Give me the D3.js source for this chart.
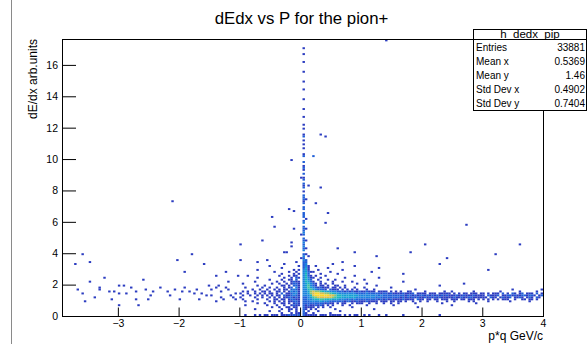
<!DOCTYPE html>
<html>
<head>
<meta charset="utf-8">
<script src="https://cdn.jsdelivr.net/npm/d3@7"></script>
<style>
  body { margin: 0; background: #fff; }
  svg { display: block; }
  text { font-family: "Liberation Sans", Arial, Helvetica, sans-serif; fill: #000; }
</style>
</head>
<body>
<svg id="canvas" width="587" height="344"></svg>
<script>
// ---- chart text ----
const titleText = "dEdx vs P for the pion+";
const xTitleText = "p*q GeV/c";
const yTitleText = "dE/dx arb.units";

// ---- axes ----
const xDomain = [-3.92, 4];
const yDomain = [0, 17.65];
const xTickLabels = [-3, -2, -1, 0, 1, 2, 3, 4];
const yTickLabels = [0, 2, 4, 6, 8, 10, 12, 14, 16];

// ---- statistics box ----
const statsName = "h_dedx_pip";
const statsLabels = ["Entries", "Mean x", "Mean y", "Std Dev x", "Std Dev y"];
const statsValues = ["33881", "0.5369", "1.46", "0.4902", "0.7404"];

// ---- histogram bins ----
const binW = 0.04;
const binH = 0.125;

// dense region: x from -1.0 to 4.0, y from 0 to 3.5
// one string per y bin, top bin first; '.' = empty, 1..9 = colour level
const gridX0 = -1.0;
const gridRows = [
  "..... ..1.. ..... ..... ...1. .22.. ..... ..... ..1.. ..... ..... ..... ..... ..... ..... ..... ..... ..... ..... ..... ..... ..... ..... ..... .....",
  "..... ..... ..... ...1. ..... .23.. ..... ...1. ..... ..... ..... ..... ..... ..... ..... ..... ..1.. ..... ..... ..... ..... ..... ..... ..... .....",
  "..... ..... ..1.. ..... ....1 .231. .1... ..... ..... ..1.. ..... ..... ..... ..... ..... ..... ..... ..... ..... ..... ..... ..... ..... ..... .....",
  "..... ..... ..... ..1.. ..... .241. ..... .1... ..... ..... ..... ..1.. ..... ..... ..... ..... ..... ..... ..... ..... ..... ..... ..... ..... .....",
  "..... ..1.. ..... ..... ..1.1 .341. ..1.. ..... ..1.. ..... ..... ..... ..... ..... ..... ..... ..... ..... ..... ..... ..1.. ..... ..... ..... .....",
  "..... ..... ....1 ..... 1..1. .3421 1.... ..1.. ..... ..... ....1 ..... ..... ..... ..... ..... ..... ..... ..... ..... ..... ..... ..... ..... .....",
  "..... ..... ..... ..1.. ..1.1 .352. ...1. ..... 1.... ..... ..... ..... ..... ..1.. ..... ..... ..... ..... ..... ..... ..... ..... ..... ..... .....",
  "...1. ..... ..... .1... 1.11. .3521 .1... 1.... ..... ..1.. ..... ..... ..... ..... ..... ..... ..... ..... ..... ..... ..... ..... ..... ..... .....",
  "..... ..1.. ..... ...1. .1.21 .3531 1..1. ..... ...1. ..... ..... ..1.. ..... ..... ..... ..... ..... ..... ..... ..... ..... ..... ..... ..... .....",
  "..... ..... ..1.. ..1.. 11.2. .3532 ..1.. .1..1 ..... ..... .1... ..... ..... ..... ..... ..... ..... ..... ..... ..... ..... ..... ..... ..... .....",
  "..... .1... ..... 1..1. .1211 .3542 1..1. ...1. ..1.. .1... ..... ..... ..... ..1.. ..... ..... ..... ..... ..... ..... ..... ..... ..... ..... .....",
  ".1... ..... ...1. .1..1 .1221 .3453 21.1. 1..1. ..... ...1. ..1.. ..... ..... ..... ..... ..... ..... ..... ..1.. ..... ..... ..... ..... ..... .....",
  "..... ..1.. 1.... ..11. 1.221 .3463 21.11 .1..1 1..1. ..... ..... .1... ..... ..... ..... ..... ..1.. ..... ..... ..... ..... ..... ..... ..... .....",
  "..1.. ....1 ..1.. 1..1. 12.31 .3464 32121 11.11 .1.1. ..1.. .1... ..... ..1.. ..... ..... ..... ..... ..... ..... ..... ..... ..... ..... ..... .....",
  "..... 1..1. .1..1 .1.11 .2321 .3356 43222 1.211 1.1.1 .1.1. ..1.. 1.... ..... ..... ..1.. ..... ..... ..... ..... ..... ..... ..... ..1.. ..... ....1",
  ".1.1. .1..1 1.1.. 11.1. 13231 .3347 87765 44333 22212 12112 11211 1.111 1.1.1 .1..1 1.... .1... ....1 ..1.. ..... .1... ..... ..1.. ..... 1.... ..1..",
  "1..1. .1.1. 1.11. 1.2.1 12331 .3347 89988 77654 43333 33322 22322 22212 21211 11211 12.11 11.11 1.111 11.1. 1.11. 111.1 1.1.1 11.2. 1.21. 12.11 1.2.1",
  ".1..1 ..1.1 .1.1. 11.21 12321 .3335 89999 99887 55444 44443 33333 33232 22222 22212 21212 21212 12121 21112 11211 12111 1.211 12.11 22121 12212 21.12",
  "1.... .1..1 ..1.1 .1.11 22121 .2234 67888 88876 55444 44433 33333 32322 22222 21212 12121 12121 21211 11121 12112 21111 11.21 1.121 12.11 21.12 1.21.",
  ".1... ..1.. .1..1 1.11. 12211 .2233 45566 55544 43332 32322 22222 22121 21211 11211 11.21 1.11. 11.11 1.111 .11.1 11.1. 1.1.1 .1.11 1..1. .11.1 1.1..",
  "..1.. 1.... ..1.1 .1.1. 11221 .2223 33343 33222 22212 21121 11211 11.11 1.11. 11.1. .1..1 ..1.. .1... 1..1. ....1 .1... ..1.. ..... .1... ....1 .....",
  "..... ..1.. 1...1 ..11. 1.121 .2222 22222 1211. 1.11. .1.11 1..1. .1..1 ..1.. 1.... ..1.. ..... ...1. ..... ..... ..1.. ..... ..... ..... ..... .....",
  "..1.. ..... .1... 1..1. .1211 .2121 12121 .1.1. ..1.. 1.... ..1.. ..... ...1. ..... ..... ..... ..... ..1.. ..... ..... ..... ..... ..... ..... .....",
  "..... ..... ...1. .1..1 1.11. .2111 1.1.1 ..1.. ..... .1... ..... ..... ..... ..... ...1. ..... ..... ..... ..... ..... ..... ..... ..... ..... .....",
  "..... .1... ..... ..1.. 11.1. .21.1 .1... ....1 ..... ..... ..... 1.... ..... ..... ..... ..... ..... ..... ..... ..... ..... ..... ..... ..... .....",
  "..... ..... ..1.. .1... 1..1. .2.1. ..1.. ..... .1... ..... ..... ..... ..... ..... ..... ..... ..... ..... ..... ..... ..... ..... ..... ..... .....",
  "..... ..... ..... ..1.. .1.11 .21.. 1.... ..1.. ..... ..... ..... ..... ..... ..... ..... ..... ..... ..... ..... ..... ..... ..... ..... ..... .....",
  "..1.. .1.1. 11.11 1.111 21212 .2111 11.11 1.111 11.1. 1.11. .1.1. ..1.. 1.... ..1.. ..... ..... ..1.. ..... ..... ..... ..... ..... ..... ..... ....."
];

// narrow vertical band at low momentum: x from 0.04 to 0.08, y upward from 3.5
const spikeX0 = 0.04;
const spikeY0 = 3.5;
const spikeCells =
  "3232.323 2322.232 22.32.22 2.22.212 22.1.212 .21.2.12 1.2..21. .1.1.1.2 " +
  "1..1.1.. .1...1.. ..1....1 ...1.... 1....1.. .1..1... ..";

// isolated entries outside the dense region: [x, y, level]
const scatterCells = [
  [-3.57, 3.90, 1], [-3.72, 3.37, 1], [-3.46, 3.47, 1], [-3.23, 2.47, 1], [-3.47, 2.13, 1],
  [-3.68, 1.66, 1], [-3.60, 1.45, 1], [-3.54, 0.98, 1], [-3.32, 1.70, 1], [-3.29, 1.87, 1],
  [-3.16, 1.55, 1], [-3.06, 1.62, 1], [-3.00, 1.41, 1], [-2.98, 1.98, 1], [-2.89, 1.98, 1],
  [-2.99, 0.68, 1], [-2.86, 1.49, 1], [-2.71, 1.53, 1], [-2.69, 1.07, 1], [-2.60, 2.34, 1],
  [-2.68, 0.64, 1], [-2.53, 1.66, 1], [-2.45, 1.34, 1], [-2.41, 1.53, 1], [-2.20, 1.53, 1],
  [-2.06, 1.66, 1], [-2.03, 3.51, 1], [-1.96, 1.53, 1], [-1.91, 2.81, 1], [-1.99, 1.02, 1],
  [-1.81, 1.53, 1], [-1.78, 3.90, 1], [-1.76, 1.41, 1], [-1.65, 1.07, 1], [-1.59, 3.26, 1],
  [-1.62, 1.45, 1], [-1.48, 1.66, 1], [-1.40, 2.62, 1], [-1.33, 1.92, 1], [-1.31, 1.55, 1],
  [-1.26, 1.02, 1], [-1.24, 2.77, 1], [-1.18, 1.66, 1], [-1.15, 1.32, 1], [-1.07, 1.39, 1],
  [-1.02, 2.51, 1], [-1.45, 1.30, 1], [-1.38, 1.75, 1], [-1.22, 1.85, 1], [-1.10, 1.20, 1],
  [-1.30, 1.15, 1], [-1.50, 1.90, 1], [-1.20, 2.20, 1], [-1.05, 1.00, 1], [-1.40, 0.90, 1],
  [-1.90, 1.80, 1], [-2.30, 1.80, 1], [-2.15, 1.25, 1], [-1.70, 1.70, 1], [-1.55, 1.35, 1],
  [-2.50, 1.10, 1], [-3.40, 1.20, 1], [-3.10, 1.10, 1], [-2.80, 1.75, 1],
  [-0.99, 3.62, 1], [-0.98, 4.54, 1], [-0.63, 4.75, 1], [-0.55, 3.62, 1], [-0.22, 4.00, 1],
  [-0.14, 4.64, 1], [-0.15, 4.43, 1], [-0.25, 4.00, 1], [-0.10, 5.50, 1], [-0.43, 5.70, 1],
  [-0.45, 6.30, 1], [-0.19, 6.77, 1], [-0.10, 6.73, 1], [-0.13, 9.97, 1], [-2.11, 7.35, 1],
  [0.63, 4.30, 1], [0.43, 5.96, 1], [0.46, 6.60, 1], [0.24, 7.20, 1], [0.15, 8.26, 1],
  [0.35, 8.20, 1], [0.23, 10.20, 2], [0.34, 11.60, 1], [0.43, 11.40, 1], [1.43, 17.60, 1],
  [0.10, 3.60, 2], [0.10, 3.90, 1], [0.11, 4.30, 1], [0.09, 4.80, 1], [0.02, 5.20, 1],
  [0.10, 5.60, 1], [0.02, 3.70, 1], [0.10, 6.20, 1], [0.13, 3.80, 1], [0.10, 7.40, 1],
  [0.02, 8.80, 1], [2.73, 5.75, 1], [1.25, 3.80, 1], [1.80, 4.10, 1], [2.40, 3.70, 1],
  [3.20, 3.90, 1], [3.60, 4.50, 1], [0.90, 4.00, 1], [2.05, 4.60, 1]
];

// colour levels, low to high counts
const palette = ["#2b3cc0", "#1f5fd8", "#1b82dd", "#139fd2", "#18b4be", "#3fbf9c", "#8cc270", "#d8bd4a", "#f9d626"];

// ---- layout ----
const svg = d3.select("#canvas");
const frame = { left: 62, right: 543, top: 39, bottom: 316 };

const x = d3.scaleLinear().domain(xDomain).range([frame.left, frame.right]);
const y = d3.scaleLinear().domain(yDomain).range([frame.bottom, frame.top]);

// thin canvas edge on the left
svg.append("line")
  .attr("x1", 11.5).attr("x2", 11.5).attr("y1", 0).attr("y2", 344)
  .attr("stroke", "#8a8a8a").attr("stroke-width", 1);

// ---- collect histogram cells ----
const cells = [];
const nRows = gridRows.length;
gridRows.forEach((row, i) => {
  const s = row.replace(/ /g, "");
  const y0 = (nRows - 1 - i) * binH;
  for (let j = 0; j < s.length; j++) {
    const ch = s[j];
    if (ch >= "1" && ch <= "9") cells.push({ x0: gridX0 + j * binW, y0: y0, level: +ch });
  }
});
spikeCells.replace(/ /g, "").split("").forEach((ch, k) => {
  if (ch >= "1" && ch <= "9") cells.push({ x0: spikeX0, y0: spikeY0 + k * binH, level: +ch });
});
scatterCells.forEach(([vx, vy, lv]) => {
  cells.push({ x0: Math.floor(vx / binW) * binW, y0: Math.floor(vy / binH) * binH, level: lv });
});

svg.append("clipPath").attr("id", "plotClip")
  .append("rect")
  .attr("x", frame.left).attr("y", frame.top)
  .attr("width", frame.right - frame.left).attr("height", frame.bottom - frame.top);

svg.append("g")
  .attr("clip-path", "url(#plotClip)")
  .selectAll("rect")
  .data(cells)
  .join("rect")
  .attr("x", d => x(d.x0))
  .attr("y", d => y(d.y0 + binH))
  .attr("width", d => x(d.x0 + binW) - x(d.x0))
  .attr("height", d => y(d.y0) - y(d.y0 + binH))
  .attr("fill", d => palette[d.level - 1]);

// ---- axes (ticks drawn inward) ----
const xMinor = d3.range(-3.8, 4.0001, 0.2).map(v => +v.toFixed(2));
const yMinor = d3.range(0, 17.6, 0.5);
const labelFont = '"Liberation Sans", Arial, sans-serif';

const xAxis = svg.append("g").attr("transform", `translate(0,${frame.bottom})`);
xAxis.call(d3.axisBottom(x).tickValues(xMinor).tickSize(-4).tickFormat(""));
xAxis.call(d3.axisBottom(x).tickValues(xTickLabels).tickSize(-8.5).tickPadding(3.5)
  .tickFormat(d3.format("d")));
xAxis.selectAll(".domain").remove();
xAxis.selectAll("line").attr("stroke", "#000");
xAxis.selectAll("text").attr("font-size", 10.5).style("font-family", labelFont);

const yAxis = svg.append("g").attr("transform", `translate(${frame.left},0)`);
yAxis.call(d3.axisLeft(y).tickValues(yMinor).tickSize(-7).tickFormat(""));
yAxis.call(d3.axisLeft(y).tickValues(yTickLabels).tickSize(-14).tickPadding(4)
  .tickFormat(d3.format("d")));
yAxis.selectAll(".domain").remove();
yAxis.selectAll("line").attr("stroke", "#000");
yAxis.selectAll("text").attr("font-size", 10.5).style("font-family", labelFont);

// plot frame
svg.append("rect")
  .attr("x", frame.left + 0.5).attr("y", frame.top + 0.5)
  .attr("width", frame.right - frame.left).attr("height", frame.bottom - frame.top)
  .attr("fill", "none").attr("stroke", "#000").attr("stroke-width", 1);

// ---- titles ----
svg.append("text")
  .attr("x", 301.5).attr("y", 23.5)
  .attr("text-anchor", "middle")
  .attr("font-size", 16.8)
  .text(titleText);

svg.append("text")
  .attr("x", frame.right).attr("y", 339.5)
  .attr("text-anchor", "end")
  .attr("font-size", 12)
  .text(xTitleText);

svg.append("text")
  .attr("transform", `translate(36.5,${frame.top}) rotate(-90)`)
  .attr("text-anchor", "end")
  .attr("font-size", 12)
  .text(yTitleText);

// ---- statistics box ----
const box = { left: 473.5, top: 29.5, right: 586.5, bottom: 110.5 };
const stats = svg.append("g");
stats.append("rect")
  .attr("x", box.left).attr("y", box.top)
  .attr("width", box.right - box.left).attr("height", box.bottom - box.top)
  .attr("fill", "#fff").attr("stroke", "#000").attr("stroke-width", 1);
stats.append("line")
  .attr("x1", box.left).attr("x2", box.right).attr("y1", 39.5).attr("y2", 39.5)
  .attr("stroke", "#000");
stats.append("text")
  .attr("x", (box.left + box.right) / 2).attr("y", 37.5)
  .attr("text-anchor", "middle").attr("font-size", 11.5)
  .text(statsName);
statsLabels.forEach((lab, i) => {
  const by = 50.5 + i * 14;
  stats.append("text").attr("x", 476).attr("y", by).attr("font-size", 10).text(lab);
  stats.append("text").attr("x", 585).attr("y", by).attr("text-anchor", "end")
    .attr("font-size", 10).text(statsValues[i]);
});
</script>
</body>
</html>
